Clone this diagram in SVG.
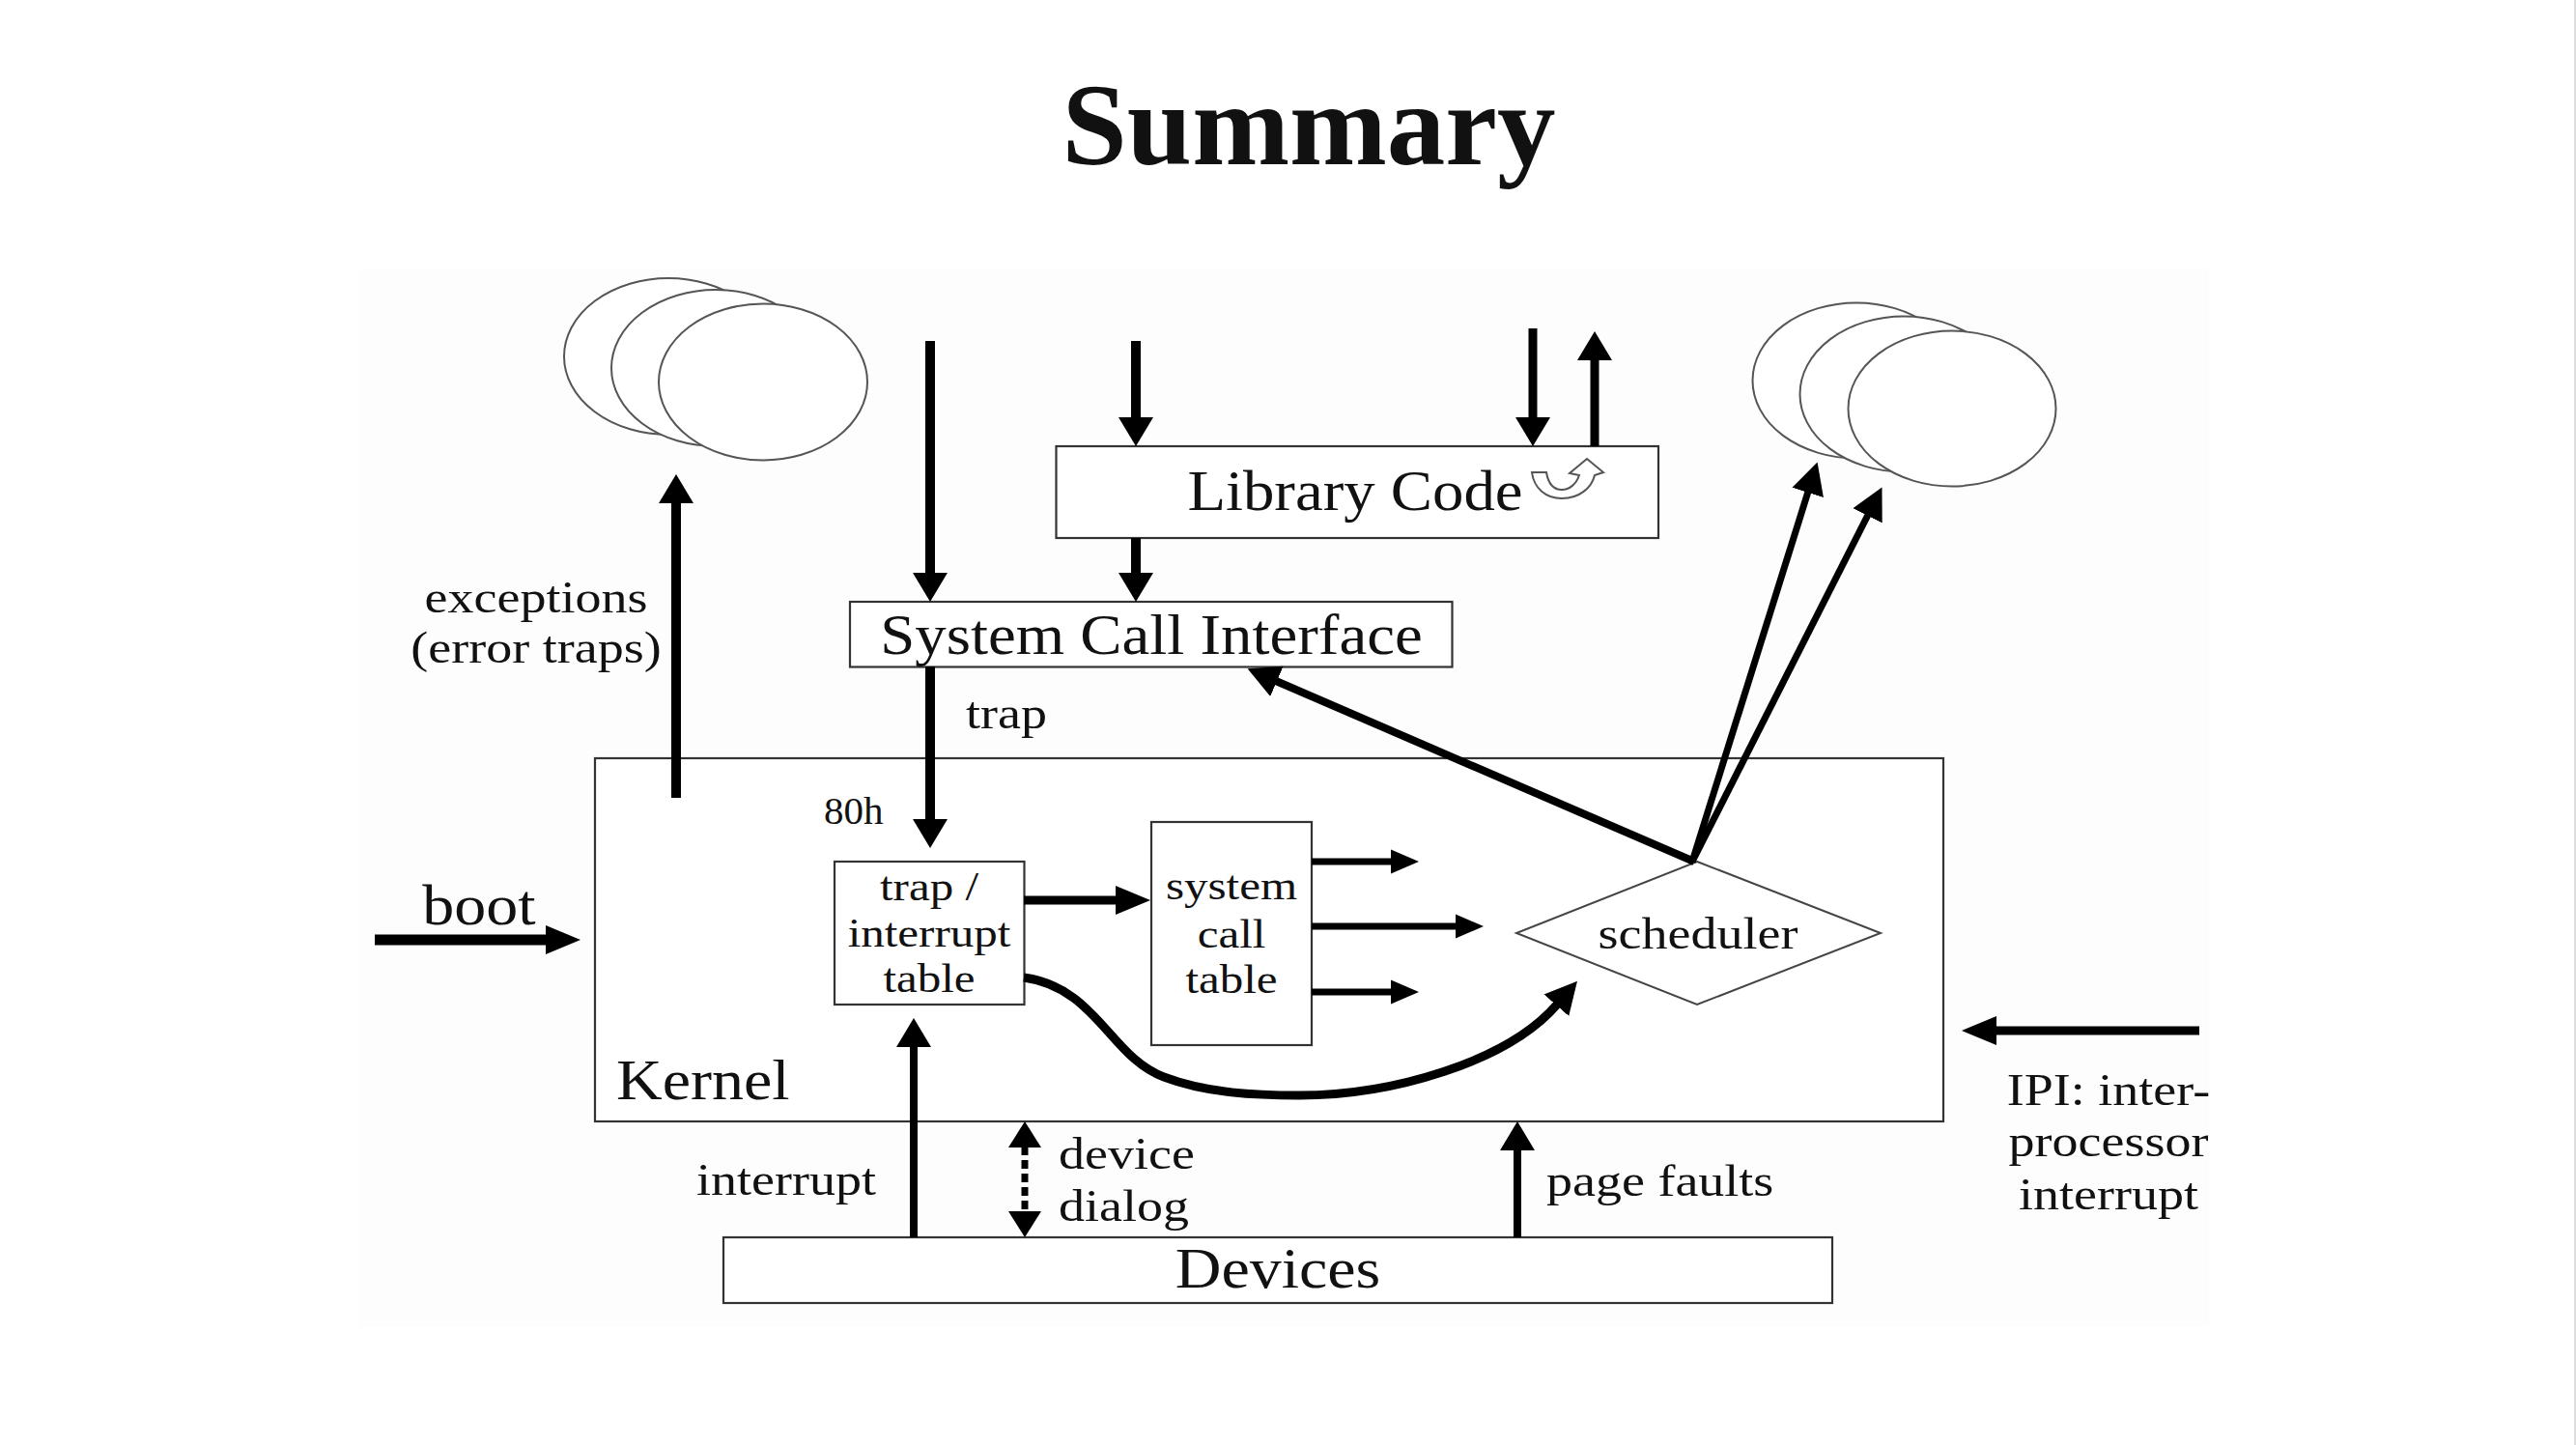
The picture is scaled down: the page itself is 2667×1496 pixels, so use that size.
<svg xmlns="http://www.w3.org/2000/svg" width="2667" height="1496" viewBox="0 0 2667 1496">
<style>
.box{fill:#fff;stroke:#333;stroke-width:2.2}
.ell{fill:#fff;stroke:#555;stroke-width:2}
.t{font-family:"Liberation Serif","Times New Roman",serif;fill:#111}
.big{font-size:64px}
.lab{font-size:47px}
.inn{font-size:42px}
.c{text-anchor:middle}
.ln{fill:none;stroke:#000;stroke-linecap:butt}
</style>
<defs>
<marker id="hv" markerUnits="userSpaceOnUse" viewBox="0 -18 30 36" markerWidth="30" markerHeight="36" refX="1" refY="0" orient="auto"><path d="M0,-18 L30,0 L0,18 z" fill="#000"/></marker>
<marker id="hvs" markerUnits="userSpaceOnUse" viewBox="0 -18 30 36" markerWidth="30" markerHeight="36" refX="1" refY="0" orient="auto-start-reverse"><path d="M0,-17 L27,0 L0,17 z" fill="#000"/></marker>
<marker id="hh" markerUnits="userSpaceOnUse" viewBox="0 -15 36 30" markerWidth="36" markerHeight="30" refX="1" refY="0" orient="auto"><path d="M0,-15 L36,0 L0,15 z" fill="#000"/></marker>
<marker id="hs" markerUnits="userSpaceOnUse" viewBox="0 -13 30 26" markerWidth="30" markerHeight="26" refX="1" refY="0" orient="auto"><path d="M0,-12.5 L29,0 L0,12.5 z" fill="#000"/></marker>
<marker id="hd" markerUnits="userSpaceOnUse" viewBox="0 -18 34 36" markerWidth="34" markerHeight="36" refX="1" refY="0" orient="auto"><path d="M0,-17 L33,0 L0,17 z" fill="#000"/></marker>
</defs>
<rect x="0" y="0" width="2667" height="1496" fill="#fff"/>
<rect x="372" y="278" width="1915" height="1096" fill="#fdfdfd"/>
<line x1="2666" y1="0" x2="2666" y2="1496" stroke="#ddd" stroke-width="2"/>

<text class="t c" x="1355" y="170" style="font-size:121px;font-weight:bold">Summary</text>

<g id="procs-left">
<ellipse class="ell" cx="692" cy="369" rx="108" ry="81"/>
<ellipse class="ell" cx="741" cy="381" rx="108" ry="81"/>
<ellipse class="ell" cx="790" cy="395.5" rx="108" ry="81"/>
</g>
<g id="procs-right">
<ellipse class="ell" cx="1922" cy="394" rx="107.5" ry="80.5"/>
<ellipse class="ell" cx="1971" cy="408" rx="107.5" ry="80.5"/>
<ellipse class="ell" cx="2021" cy="423" rx="107.5" ry="80.5"/>
</g>

<g id="kernel">
<rect class="box" x="616" y="785" width="1396" height="376"/>
<text class="t" transform="translate(638 1138) scale(1.1 1)" style="font-size:60px">Kernel</text>
</g>
<g id="library">
<rect class="box" x="1093.5" y="462" width="623.5" height="95"/>
<text class="t c" transform="translate(1403 528) scale(1.08 1)" style="font-size:60px">Library Code</text>
<path d="M1586,489 C1588,505 1600,516 1617,516 C1635,516 1648,505 1651,492 L1660,489 L1643,475 L1625,490 L1635,492 C1632,501 1625,507 1617,507 C1608,507 1603,501 1601,489 Z" fill="#fff" stroke="#555" stroke-width="2"/>
</g>
<g id="sci">
<rect class="box" x="880" y="623" width="623.5" height="67.5"/>
<text class="t c" transform="translate(1192 677) scale(1.08 1)" style="font-size:60px">System Call Interface</text>
</g>
<g id="trap-table">
<rect class="box" x="864" y="892" width="196.5" height="148"/>
<text class="t inn c" transform="translate(962 932) scale(1.167 1)">trap /</text>
<text class="t inn c" transform="translate(962 980) scale(1.167 1)">interrupt</text>
<text class="t inn c" transform="translate(962 1027) scale(1.167 1)">table</text>
</g>
<g id="syscall-table">
<rect class="box" x="1192" y="851" width="166" height="231"/>
<text class="t inn c" transform="translate(1275 931) scale(1.167 1)">system</text>
<text class="t inn c" transform="translate(1275 981) scale(1.167 1)">call</text>
<text class="t inn c" transform="translate(1275 1028) scale(1.167 1)">table</text>
</g>
<g id="scheduler">
<polygon points="1757,892 1947,966 1757,1040 1570,966" fill="#fff" stroke="#444" stroke-width="2"/>
<text class="t lab c" transform="translate(1758 982) scale(1.149 1)">scheduler</text>
</g>
<g id="devices">
<rect class="box" x="749" y="1281" width="1148" height="68"/>
<text class="t c" transform="translate(1323 1333) scale(1.1 1)" style="font-size:60px">Devices</text>
</g>

<g id="connectors">
<line class="ln" x1="700" y1="826" x2="700" y2="520" stroke-width="10" marker-end="url(#hv)"/>
<line class="ln" x1="963" y1="353" x2="963" y2="594" stroke-width="10" marker-end="url(#hv)"/>
<line class="ln" x1="1176" y1="353" x2="1176" y2="433" stroke-width="10" marker-end="url(#hv)"/>
<line class="ln" x1="1176" y1="557" x2="1176" y2="594" stroke-width="10" marker-end="url(#hv)"/>
<line class="ln" x1="1587" y1="340" x2="1587" y2="433" stroke-width="9" marker-end="url(#hv)"/>
<line class="ln" x1="1651" y1="462" x2="1651" y2="372" stroke-width="9" marker-end="url(#hv)"/>
<line class="ln" x1="963" y1="690" x2="963" y2="849" stroke-width="10" marker-end="url(#hv)"/>
<line class="ln" x1="1060" y1="932" x2="1156" y2="932" stroke-width="9" marker-end="url(#hh)"/>
<line class="ln" x1="1358" y1="892" x2="1441" y2="892" stroke-width="7" marker-end="url(#hs)"/>
<line class="ln" x1="1358" y1="959" x2="1508" y2="959" stroke-width="7" marker-end="url(#hs)"/>
<line class="ln" x1="1358" y1="1027" x2="1441" y2="1027" stroke-width="7" marker-end="url(#hs)"/>
<line class="ln" x1="388" y1="973" x2="566" y2="973" stroke-width="11" marker-end="url(#hh)"/>
<line class="ln" x1="2277" y1="1067" x2="2066" y2="1067" stroke-width="9" marker-end="url(#hh)"/>
<line class="ln" x1="946" y1="1281" x2="946" y2="1083" stroke-width="8" marker-end="url(#hv)"/>
<line class="ln" x1="1061" y1="1187" x2="1061" y2="1255" stroke-width="7" stroke-dasharray="9,5" marker-start="url(#hvs)" marker-end="url(#hvs)"/>
<line class="ln" x1="1571" y1="1281" x2="1571" y2="1190" stroke-width="8" marker-end="url(#hv)"/>
<line class="ln" x1="1754" y1="892" x2="1321" y2="705" stroke-width="8" marker-end="url(#hd)"/>
<line class="ln" x1="1752" y1="892" x2="1872" y2="509" stroke-width="7" marker-end="url(#hd)"/>
<line class="ln" x1="1752" y1="892" x2="1934" y2="533" stroke-width="7" marker-end="url(#hd)"/>
<path class="ln" d="M1060,1012 C1135,1022 1150,1095 1205,1115 C1250,1132 1300,1134 1345,1134 C1440,1134 1560,1100 1612,1040" stroke-width="9" marker-end="url(#hd)"/>
</g>

<g id="labels">
<text class="t lab c" transform="translate(555 634) scale(1.149 1)">exceptions</text>
<text class="t lab c" transform="translate(555 686) scale(1.149 1)">(error traps)</text>
<text class="t lab" transform="translate(1000 754) scale(1.149 1)">trap</text>
<text class="t" x="853" y="853" style="font-size:41px">80h</text>
<text class="t c" transform="translate(496 957) scale(1.1 1)" style="font-size:60px">boot</text>
<text class="t lab c" transform="translate(814 1237) scale(1.149 1)">interrupt</text>
<text class="t lab" transform="translate(1096 1210) scale(1.149 1)">device</text>
<text class="t lab" transform="translate(1096 1264) scale(1.149 1)">dialog</text>
<text class="t lab" transform="translate(1601 1238) scale(1.149 1)">page faults</text>
<text class="t lab c" transform="translate(2183 1144) scale(1.149 1)">IPI: inter-</text>
<text class="t lab c" transform="translate(2183 1197) scale(1.149 1)">processor</text>
<text class="t lab c" transform="translate(2183 1252) scale(1.149 1)">interrupt</text>
</g>
</svg>
